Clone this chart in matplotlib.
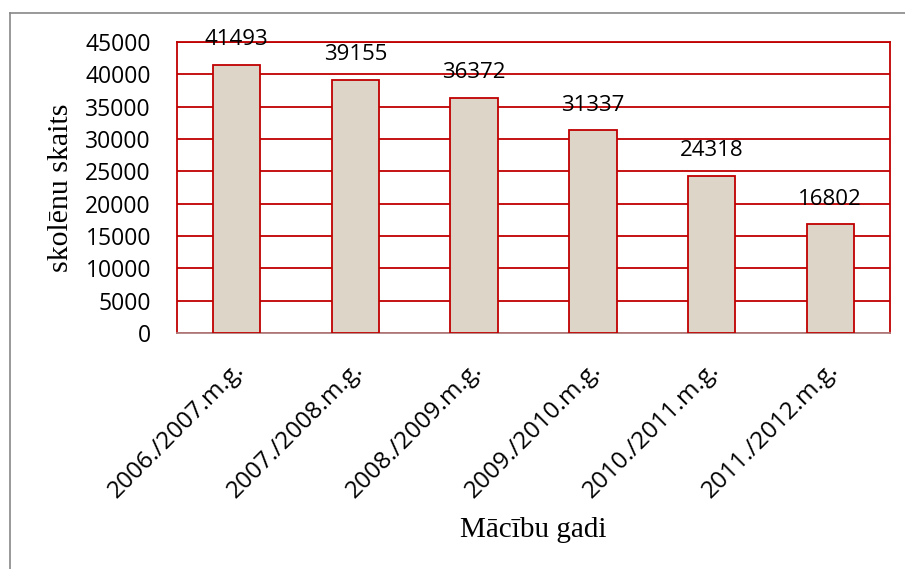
import matplotlib.pyplot as plt
from matplotlib.lines import Line2D
from matplotlib.transforms import ScaledTranslation

# Dati
gadi = ['2006./2007.m.g.', '2007./2008.m.g.', '2008./2009.m.g.',
        '2009./2010.m.g.', '2010./2011.m.g.', '2011./2012.m.g.']
skaits = [41493, 39155, 36372, 31337, 24318, 16802]
y_ticks = [0, 5000, 10000, 15000, 20000, 25000, 30000, 35000, 40000, 45000]

red = '#C00000'
sans = ['Open Sans', 'DejaVu Sans']
serif = ['Liberation Serif', 'DejaVu Serif']

fig = plt.figure(figsize=(9.05, 5.69), dpi=100)
ax = fig.add_axes([0.196, 0.415, 0.787, 0.511])

x = range(len(gadi))
bars = ax.bar(x, skaits, width=0.4, color='#DDD5C8', edgecolor=red,
              linewidth=1.3, zorder=3)

for b, v in zip(bars, skaits):
    ax.annotate(str(v), (b.get_x() + b.get_width() / 2, v),
                xytext=(0, 18), textcoords='offset points',
                ha='center', va='center', fontsize=16, family=sans, zorder=4)

ax.set_xlim(-0.5, len(gadi) - 0.5)
ax.set_ylim(0, 45000)
ax.set_yticks(y_ticks)
ax.set_yticklabels([str(t) for t in y_ticks], family=sans, fontsize=16.5)
ax.set_xticks(list(x))
ax.set_xticklabels(gadi, rotation=45, ha='right', va='center',
                   rotation_mode='anchor', family=sans, fontsize=17.5)
ax.tick_params(axis='y', length=0, pad=19)
ax.tick_params(axis='x', length=0, pad=24)
for lbl in ax.get_xticklabels():
    lbl.set_transform(lbl.get_transform() + ScaledTranslation(3 / 72, 0, fig.dpi_scale_trans))

ax.grid(axis='y', color=red, linewidth=1.3, zorder=1)
for s in ax.spines.values():
    s.set_color(red)
    s.set_linewidth(1.3)
ax.spines['bottom'].set_color('#B08080')

ax.set_ylabel('skolēnu skaits', family=serif, fontsize=21.5, labelpad=8)
fig.text(0.589, 0.068, 'Mācību gadi', family=serif, fontsize=21,
         ha='center', va='center')

# ramis ap attēlu
fig.add_artist(Line2D([10 / 905, 10 / 905], [0, 1 - 13 / 569], color='#888888', lw=1.2))
fig.add_artist(Line2D([10 / 905, 1], [1 - 13 / 569, 1 - 13 / 569], color='#888888', lw=1.2))

fig.savefig('out.png', dpi=100)
